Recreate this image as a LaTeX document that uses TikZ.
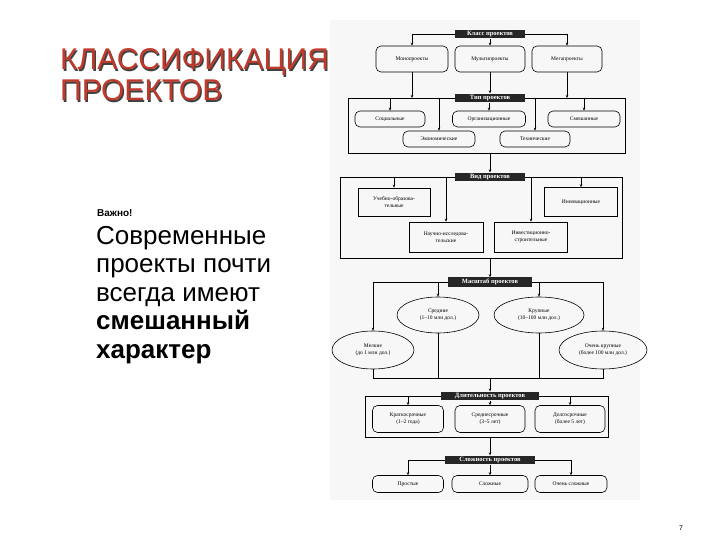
\documentclass[tikz,border=0pt]{standalone}
\usepackage{fontspec}
\setmainfont{Liberation Sans}
\newfontfamily\dfont{Liberation Serif}
\usetikzlibrary{shapes.geometric,arrows.meta}
\definecolor{tred}{HTML}{C0392B}
\begin{document}
\begin{tikzpicture}[x=1pt,y=-1pt,
  lab/.style={fill=black!85,text=white,font=\dfont\fontsize{6.5}{7}\selectfont\bfseries,inner sep=1.5pt,minimum width=70pt},
  rb/.style={draw,rounded corners=5pt,font=\dfont\fontsize{5.5}{6.5}\selectfont,align=center,inner sep=1pt},
  sb/.style={draw,font=\dfont\fontsize{5.5}{6.5}\selectfont,align=center,inner sep=1pt},
  el/.style={draw,ellipse,font=\dfont\fontsize{5.5}{6.5}\selectfont,align=center,inner sep=0pt},
  frame/.style={draw},
  ar/.style={-{Stealth[length=3pt,width=2.5pt]}},
  ln/.style={line width=0.6pt},
  ttl/.style={anchor=west,font=\fontsize{30}{31}\selectfont,align=left,inner sep=0pt}]
\useasboundingbox (0,0) rectangle (720,540);
\fill[gray!6] (330,20) rectangle (640,500);
% title
\node[ttl,text=black!75] (titleshadow) at (61.2,76.2) {КЛАССИФИКАЦИЯ\\ПРОЕКТОВ};
\node[ttl,text=tred] (title) at (60,75) {КЛАССИФИКАЦИЯ\\ПРОЕКТОВ};
\node[anchor=west,font=\fontsize{10}{11}\selectfont\bfseries,inner sep=0pt] (imp) at (97,213) {Важно!};
\node[anchor=north west,font=\fontsize{26}{28.5}\selectfont,align=left,inner sep=0pt] (txt) at (96,226) {Современные\\проекты почти\\всегда имеют\\\textbf{смешанный}\\\textbf{характер}};
\node[font=\fontsize{7}{8}\selectfont] (pg) at (681,528) {7};
\begin{scope}[ln]
% Класс
\node[lab] (k) at (490,34) {Класс проектов};
\node[rb,minimum width=72pt,minimum height=26pt] (k1) at (412,59) {Монопроекты};
\node[rb,minimum width=70pt,minimum height=26pt] (k2) at (490,59) {Мультипроекты};
\node[rb,minimum width=70pt,minimum height=26pt] (k3) at (567,59) {Мегапроекты};
\draw (k.west) -- (412,34); \draw[ar] (412,34) -- (k1.north);
\draw (k.east) -- (567,34); \draw[ar] (567,34) -- (k3.north);
\draw[ar] (k.south) -- (k2.north);
% Тип
\draw[frame] (348,98) rectangle (625,153);
\node[lab] (t) at (490,98) {Тип проектов};
\draw[ar] (k1.south) -- (412,98);
\draw[ar] (k2.south) -- (t.north);
\draw[ar] (k3.south) -- (567,98);
\node[rb,minimum width=70pt,minimum height=16pt] (t1) at (390,119) {Социальные};
\node[rb,minimum width=73pt,minimum height=16pt] (t2) at (489,119) {Организационные};
\node[rb,minimum width=72pt,minimum height=16pt] (t3) at (584,119) {Смешанные};
\node[rb,minimum width=72pt,minimum height=16pt] (t4) at (439,139) {Экономические};
\node[rb,minimum width=70pt,minimum height=16pt] (t5) at (535,139) {Технические};
\draw[ar] (t1.north |- 0,98) -- (t1.north);
\draw[ar] (t.south -| t2.north) -- (t2.north);
\draw[ar] (t3.north |- 0,98) -- (t3.north);
\draw[ar] (t4.north |- 0,98) -- (t4.north);
\draw[ar] (t5.north |- 0,98) -- (t5.north);
% Вид
\draw[frame] (340,177) rectangle (622,258);
\node[lab] (v) at (490,177) {Вид проектов};
\draw[ar] (490,153) -- (v.north);
\node[sb,minimum width=72pt,minimum height=28pt] (v1) at (394,202) {Учебно-образова-\\тельные};
\node[sb,minimum width=73pt,minimum height=29pt] (v2) at (581,202) {Инновационные};
\node[sb,minimum width=74pt,minimum height=30pt] (v3) at (446,237) {Научно-исследова-\\тельские};
\node[sb,minimum width=73pt,minimum height=30pt] (v4) at (531,237) {Инвестиционно-\\строительные};
\draw[ar] (v1.north |- 0,177) -- (v1.north);
\draw[ar] (v3.north |- 0,177) -- (v3.north);
\draw[ar] (v4.north |- 0,177) -- (v4.north);
\draw[ar] (v2.north |- 0,177) -- (v2.north);
% Масштаб
\node[lab,minimum width=84pt] (m) at (490,282) {Масштаб проектов};
\draw[ar] (490,258) -- (m.north);
\node[el,minimum width=82pt,minimum height=38pt] (m1) at (373,350) {Мелкие\\(до 1 млн дол.)};
\node[el,minimum width=82pt,minimum height=36pt] (m2) at (438,315) {Средние\\(1–10 млн дол.)};
\node[el,minimum width=90pt,minimum height=36pt] (m3) at (539,315) {Крупные\\(10–100 млн дол.)};
\node[el,minimum width=88pt,minimum height=38pt] (m4) at (603,350) {Очень крупные\\(более 100 млн дол.)};
\draw (m.west) -- (m1.north |- 0,282); \draw[ar] (m1.north |- 0,282) -- (m1.north);
\draw (m.east) -- (m4.north |- 0,282); \draw[ar] (m4.north |- 0,282) -- (m4.north);
\draw[ar] (m2.north |- 0,282) -- (m2.north);
\draw[ar] (m3.north |- 0,282) -- (m3.north);
\coordinate (j1) at (m1.south |- 0,378); \coordinate (j4) at (m4.south |- 0,378);
\draw (m1.south) -- (j1) -- (j4) -- (m4.south);
\draw (m2.south) -- (m2.south |- 0,378); \draw (m3.south) -- (m3.south |- 0,378);
% Длительность
\draw[frame] (365,396) rectangle (608,437);
\node[lab,minimum width=98pt] (d) at (490,396) {Длительность проектов};
\draw[ar] (490,378) -- (d.north);
\node[rb,minimum width=71pt,minimum height=27pt] (d1) at (408,419) {Краткосрочные\\(1–2 года)};
\node[rb,minimum width=70pt,minimum height=27pt] (d2) at (490,419) {Среднесрочные\\(3–5 лет)};
\node[rb,minimum width=70pt,minimum height=27pt] (d3) at (570,419) {Долгосрочные\\(более 5 лет)};
\draw[ar] (d1.north |- 0,396) -- (d1.north);
\draw[ar] (d.south) -- (d2.north);
\draw[ar] (d3.north |- 0,396) -- (d3.north);
% Сложность
\node[lab,minimum width=90pt] (s) at (490,460) {Сложность проектов};
\draw[ar] (490,437) -- (s.north);
\node[rb,minimum width=71pt,minimum height=17pt] (s1) at (408,484) {Простые};
\node[rb,minimum width=76pt,minimum height=17pt] (s2) at (490,484) {Сложные};
\node[rb,minimum width=72pt,minimum height=17pt] (s3) at (571,484) {Очень сложные};
\draw (s.west) -- (s1.north |- 0,460); \draw[ar] (s1.north |- 0,460) -- (s1.north);
\draw (s.east) -- (s3.north |- 0,460); \draw[ar] (s3.north |- 0,460) -- (s3.north);
\draw[ar] (s.south) -- (s2.north);
\end{scope}
\end{tikzpicture}
\end{document}
